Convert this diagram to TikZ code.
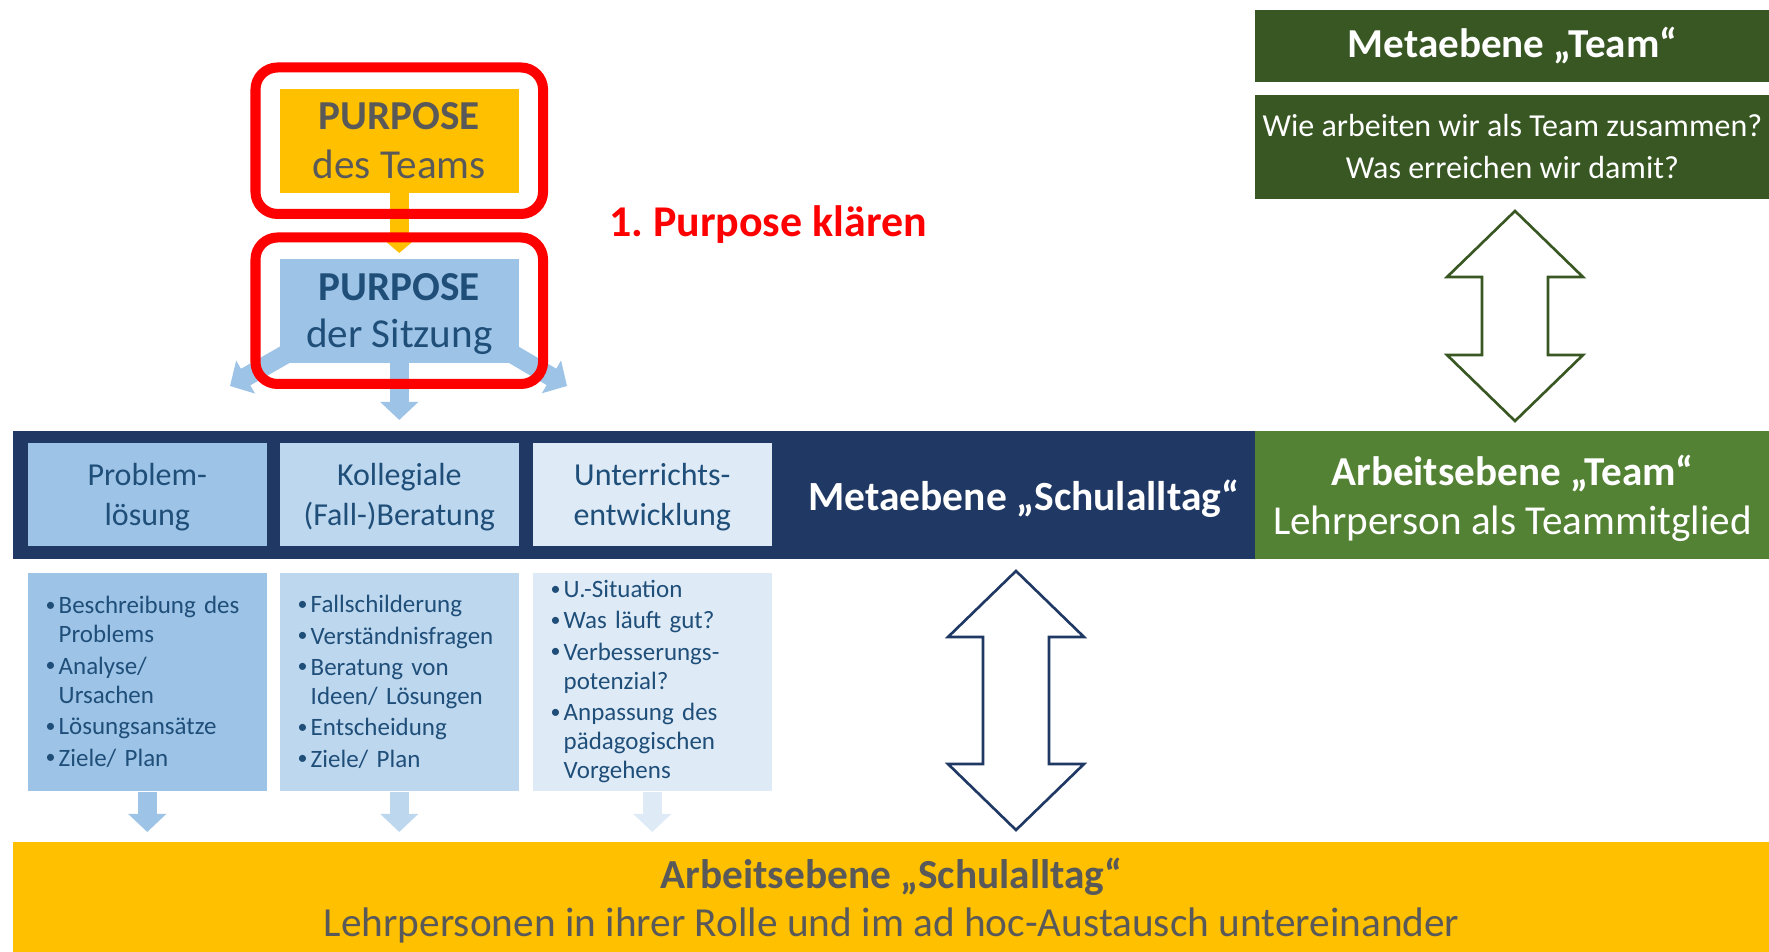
\documentclass[tikz,border=0pt]{standalone}
\usepackage{fontspec}
\setmainfont{Carlito}
\usepackage{xcolor}
\usepackage[]{tikz}
\usetikzlibrary{positioning,calc,fit,arrows.meta}
\frenchspacing
\definecolor{schoolYellow}{HTML}{FFC000}
\definecolor{lightBlueA}{HTML}{9DC3E6}
\definecolor{lightBlueB}{HTML}{BDD7EE}
\definecolor{lightBlueC}{HTML}{DEEBF7}
\definecolor{navyBand}{HTML}{203864}
\definecolor{textBlue}{HTML}{1F4E79}
\definecolor{textGray}{HTML}{595959}
\definecolor{teamDark}{HTML}{385723}
\definecolor{teamGreen}{HTML}{548235}
\definecolor{frameRed}{HTML}{FF0000}
\tikzstyle{plainBox}   =[rectangle, inner sep=0pt, anchor=north west]
\tikzstyle{redFrame}   =[draw=frameRed, line width=2.85pt, rounded corners=0.22cm, inner xsep=0.235cm, inner ysep=0.205cm]
\tikzstyle{blockArrow} =[line width=0.19cm, -{Triangle[width=0.37cm,length=0.18cm]}]
\tikzstyle{bulletBox}  =[plainBox, minimum width=2.39cm, minimum height=2.18cm, text width=2.03cm, inner xsep=0.18cm, text=textBlue, font=\fontsize{7.1}{8.3}\selectfont]
\tikzstyle{headBox}    =[plainBox, minimum width=2.39cm, minimum height=1.03cm, text depth=0pt, text=textBlue, align=center, font=\fontsize{9.1}{11.4}\selectfont]
\newcommand{\bul}[1]{\hangindent=0.13cm\hangafter=1\noindent\hbox to 0.13cm{\raisebox{0.1em}{\scalebox{0.8}{\textbullet}}\hfil}#1\par}
\newcommand{\twoway}[3]{
  \draw[#3, line width=0.75pt, fill=white]
    ($(#1)+(0,-#2)$) -- ++(68,66) -- ++(-35,0)
    -- ($(#1)+(33,#2-66)$) -- ++(35,0) -- ($(#1)+(0,#2)$)
    -- ++(-68,-66) -- ++(35,0) -- ($(#1)+(-33,-#2+66)$)
    -- ++(-35,0) -- cycle;
}
\begin{document}
\begin{tikzpicture}[x=0.01cm,y=-0.01cm]
      \useasboundingbox (0,0) rectangle (1769,952);
      % purpose boxes
      \node[plainBox, fill=schoolYellow, minimum width=2.39cm, minimum height=1.04cm, text=textGray, align=center, font=\fontsize{11.7}{13.7}\selectfont] (pteam) at (279,88) {\textbf{PURPOSE}\\des Teams};
      \node[plainBox, fill=lightBlueA, minimum width=2.39cm, minimum height=1.04cm, text depth=0pt, text=textBlue, align=center, font=\fontsize{11.7}{13.4}\selectfont] (psitz) at (279,258) {\textbf{PURPOSE}\\der Sitzung};
      % bands
      \node[plainBox, fill=navyBand, minimum width=12.42cm, minimum height=1.28cm] (meta) at (12,430) {};
      \node[text=white, font=\bfseries\fontsize{11.8}{14}\selectfont] (metalabel) at (1024,499) {Metaebene „Schulalltag“};
      \node[plainBox, fill=teamGreen, minimum width=5.15cm, minimum height=1.28cm, text depth=0pt, text=white, align=center, font=\fontsize{11.7}{13.7}\selectfont] (teamband) at (1254,430) {\textbf{Arbeitsebene „Team“}\\Lehrperson als Teammitglied};
      \node[plainBox, fill=schoolYellow, minimum width=17.57cm, minimum height=1.11cm, text depth=0pt, text=textGray, align=center, font=\fontsize{11.75}{13.9}\selectfont] (arbeit) at (12,841) {\textbf{Arbeitsebene „Schulalltag“}\\Lehrpersonen in ihrer Rolle und im ad hoc-Austausch untereinander};
      % team boxes
      \node[plainBox, fill=teamDark, minimum width=5.15cm, minimum height=0.72cm, text=white, font=\bfseries\fontsize{11.7}{13}\selectfont] (teamhead) at (1254,9) {Metaebene „Team“};
      \node[plainBox, fill=teamDark, minimum width=5.15cm, minimum height=1.04cm, text=white, align=center, font=\fontsize{9.1}{11.9}\selectfont] (teamq) at (1254,94) {Wie arbeiten wir als Team zusammen?\\Was erreichen wir damit?};
      % columns
      \node[headBox, fill=lightBlueA] (c1) at (27,442) {Problem-\\lösung};
      \node[headBox, fill=lightBlueB] (c2) at (279,442) {Kollegiale\\(Fall-)Beratung};
      \node[headBox, fill=lightBlueC] (c3) at (532,442) {Unterrichts-\\entwicklung};
      \node[bulletBox, fill=lightBlueA] (b1) at (27,572) {\raggedright\setlength{\parskip}{0.6pt}%
        \bul{Beschreibung des\newline Problems}\bul{Analyse/\newline Ursachen}\bul{Lösungsansätze}\bul{Ziele/ Plan}};
      \node[bulletBox, fill=lightBlueB] (b2) at (279,572) {\raggedright\setlength{\parskip}{0.6pt}%
        \bul{Fallschilderung}\bul{Verständnisfragen}\bul{Beratung von\newline Ideen/ Lösungen}\bul{Entscheidung}\bul{Ziele/ Plan}};
      \node[bulletBox, fill=lightBlueC] (b3) at (532,572) {\raggedright\setlength{\parskip}{0.6pt}%
        \bul{U.-Situation}\bul{Was läuft gut?}\bul{Verbesserungs-\newline potenzial?}\bul{Anpassung des\newline pädagogischen\newline Vorgehens}};
      % arrows
      \coordinate (tipL) at (230,386);
      \coordinate (tipR) at (567,386);
      \draw[line width=0.19cm, schoolYellow, -{Triangle[width=0.32cm,length=0.14cm]}, shorten >=0.05cm] (pteam.south) -- (psitz.north);
      \draw[blockArrow, lightBlueA, shorten >=0.1cm] (psitz.south) -- (psitz.south |- meta.north);
      \draw[blockArrow, lightBlueA] ($(psitz.south west)+(8,-10)$) -- (tipL);
      \draw[blockArrow, lightBlueA] ($(psitz.south east)+(-8,-10)$) -- (tipR);
      \foreach \bx/\col in {b1/lightBlueA, b2/lightBlueB, b3/lightBlueC}
        \draw[blockArrow, \col, shorten >=0.09cm] (\bx.south) -- (\bx.south |- arbeit.north);
      % frames
      \node[redFrame, fit=(pteam)] (frameTeam) {};
      \node[redFrame, fit=(psitz)] (frameSitz) {};
      \node[text=frameRed, font=\bfseries\fontsize{12.5}{15}\selectfont] (klaeren) at (768,225) {1. Purpose klären};
      % double arrows
      \coordinate (teamMid) at (1515,316);
      \coordinate (schoolMid) at (1016,700.5);
      \twoway{teamMid}{105}{teamDark}
      \twoway{schoolMid}{129.5}{navyBand}
\end{tikzpicture}
\end{document}
